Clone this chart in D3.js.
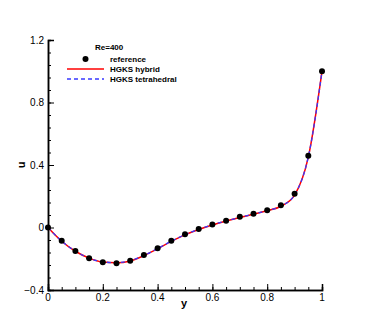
<!DOCTYPE html>
<html>
<head>
<meta charset="utf-8">
<script src="https://cdn.jsdelivr.net/npm/d3@7"></script>
<style>
  body { margin: 0; background: #fff; }
  svg text { font-family: "Liberation Sans", Arial, sans-serif; }
</style>
</head>
<body>
<div id="chart"></div>
<script>
// data
const yPos      = [0, 0.05, 0.1, 0.15, 0.2, 0.25, 0.3, 0.35, 0.4, 0.45, 0.5,
                   0.55, 0.6, 0.65, 0.7, 0.75, 0.8, 0.85, 0.9, 0.95, 1];
const uRef      = [0, -0.085, -0.150, -0.197, -0.223, -0.229, -0.212, -0.176, -0.133, -0.085, -0.043,
                   -0.010, 0.020, 0.044, 0.069, 0.088, 0.110, 0.142, 0.216, 0.460, 1.0];
const uHybrid   = [0, -0.088, -0.152, -0.196, -0.221, -0.226, -0.214, -0.180, -0.136, -0.089, -0.047,
                   -0.013, 0.016, 0.041, 0.064, 0.085, 0.107, 0.136, 0.207, 0.450, 1.0];
const uTetra    = [0, -0.087, -0.151, -0.195, -0.220, -0.225, -0.213, -0.179, -0.135, -0.088, -0.046,
                   -0.012, 0.017, 0.042, 0.065, 0.086, 0.108, 0.137, 0.209, 0.452, 1.0];
const xTicks    = [0, 0.2, 0.4, 0.6, 0.8, 1];
const yTicks    = [-0.4, 0, 0.4, 0.8, 1.2];

const W = 366, H = 326;
const margin = { left: 48, right: 322, top: 40, bottom: 290 };

const svg = d3.select("#chart").append("svg")
  .attr("width", W).attr("height", H);

const x = d3.scaleLinear().domain([0, 1]).range([margin.left, margin.right]);
const y = d3.scaleLinear().domain([-0.4, 1.2]).range([margin.bottom, margin.top]);

// axes (ticks pointing inward)
const fmt = d => d === 0 ? "0" : (d === 1 ? "1" : d3.format(".1f")(d));

const xAxisG = svg.append("g").attr("transform", `translate(0,${margin.bottom})`);
xAxisG.call(d3.axisTop(x).tickValues(d3.range(0, 1.0001, 0.05)).tickSize(3).tickFormat(""));
xAxisG.append("g").call(d3.axisTop(x).tickValues(xTicks).tickSize(6).tickFormat(""));
xAxisG.selectAll("path.domain").attr("stroke", "#000").attr("stroke-width", 1.5);
xAxisG.selectAll(".tick line").attr("stroke", "#000").attr("stroke-width", 1);
svg.append("g").selectAll("text").data(xTicks).join("text")
  .attr("x", d => x(d)).attr("y", margin.bottom + 10.5)
  .attr("text-anchor", "middle")
  .style("font-size", "10px")
  .text(fmt);

const yAxisG = svg.append("g").attr("transform", `translate(${margin.left},0)`);
yAxisG.call(d3.axisRight(y).tickValues(d3.range(-0.4, 1.2001, 0.08)).tickSize(3).tickFormat(""));
yAxisG.append("g").call(d3.axisRight(y).tickValues(yTicks).tickSize(6).tickFormat(""));
yAxisG.selectAll("path.domain").attr("stroke", "#000").attr("stroke-width", 1.5);
yAxisG.selectAll(".tick line").attr("stroke", "#000").attr("stroke-width", 1);
svg.append("g").selectAll("text").data(yTicks).join("text")
  .attr("x", margin.left - 4).attr("y", d => y(d) + 3.5)
  .attr("text-anchor", "end")
  .style("font-size", "10px")
  .text(fmt);

// axis titles
svg.append("text")
  .attr("x", (margin.left + margin.right) / 2 - 1).attr("y", 307)
  .attr("text-anchor", "middle")
  .style("font-size", "11px").style("font-weight", "bold")
  .text("y");
svg.append("text")
  .attr("transform", `translate(25,${y(0.4)}) rotate(-90)`)
  .attr("text-anchor", "middle")
  .style("font-size", "11px").style("font-weight", "bold")
  .text("u");

// lines
const line = vals => d3.line()
  .x((d, i) => x(yPos[i]))
  .y(d => y(d))
  .curve(d3.curveMonotoneX)(vals);

svg.append("path")
  .attr("d", line(uHybrid))
  .attr("fill", "none").attr("stroke", "#ff0000").attr("stroke-width", 1.5);
svg.append("path")
  .attr("d", line(uTetra))
  .attr("fill", "none").attr("stroke", "#3838ff").attr("stroke-width", 1.3)
  .attr("stroke-dasharray", "4,3");

// reference points
svg.append("g").selectAll("circle").data(uRef).join("circle")
  .attr("cx", (d, i) => x(yPos[i])).attr("cy", d => y(d))
  .attr("r", 3).attr("fill", "#000");

// legend
const lg = svg.append("g").style("font-size", "8px").style("font-weight", "bold");
lg.append("text").attr("x", 95).attr("y", 50).text("Re=400");
lg.append("circle").attr("cx", 85.5).attr("cy", 59).attr("r", 3).attr("fill", "#000");
lg.append("text").attr("x", 110).attr("y", 62).text("reference");
lg.append("line").attr("x1", 67).attr("x2", 104).attr("y1", 69).attr("y2", 69)
  .attr("stroke", "#ff0000").attr("stroke-width", 1.5);
lg.append("text").attr("x", 110).attr("y", 72).text("HGKS hybrid");
lg.append("line").attr("x1", 67).attr("x2", 104).attr("y1", 79).attr("y2", 79)
  .attr("stroke", "#3838ff").attr("stroke-width", 1.3).attr("stroke-dasharray", "4,3");
lg.append("text").attr("x", 110).attr("y", 82).text("HGKS tetrahedral");
</script>
</body>
</html>
